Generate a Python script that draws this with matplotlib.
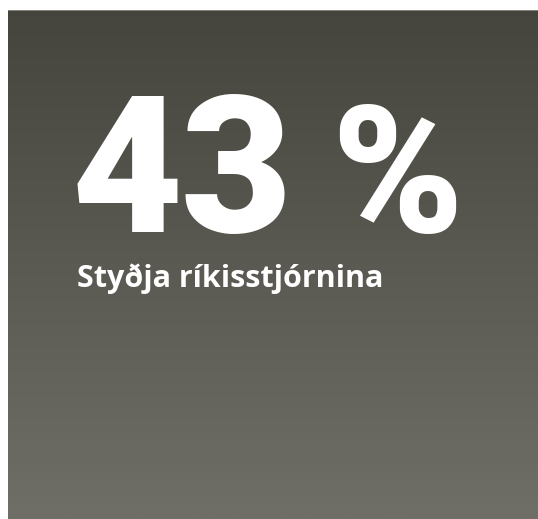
import numpy as np
import matplotlib.pyplot as plt
from matplotlib.colors import LinearSegmentedColormap

# Data
value = 43
value_label = f"{value}%"
caption = "Styðja ríkisstjórnina"

top_color = "#46453d"
bottom_color = "#6f6f67"

fig = plt.figure(figsize=(5.38, 5.19), dpi=100)
fig.patch.set_facecolor("white")

# Gradient panel
ax = fig.add_axes([8 / 538, 0, 530 / 538, 509 / 519])
cmap = LinearSegmentedColormap.from_list("bg", [top_color, bottom_color])
grad = np.linspace(0, 1, 256).reshape(-1, 1)
ax.imshow(grad, aspect="auto", cmap=cmap, extent=[0, 1, 0, 1], origin="upper")
ax.set_xlim(0, 1)
ax.set_ylim(0, 1)
ax.axhline(1, color="#8e8d86", lw=1.2)
ax.axis("off")

# Big number, one glyph at a time (reference font is wider than Roboto)
glyph_x = [72, 181, 331]
glyph_size = [138, 138, 128]
for ch, x, fs in zip(value_label, glyph_x, glyph_size):
    fig.text(x / 538, 1 - 232 / 519, ch, color="white",
             fontsize=fs, fontfamily="Roboto", fontweight="black",
             ha="left", va="baseline")

# Caption
fig.text(77 / 538, 1 - 287 / 519, caption, color="white",
         fontsize=22, fontfamily="Open Sans", fontweight="bold",
         ha="left", va="baseline")

fig.savefig("out.png", dpi=100)
